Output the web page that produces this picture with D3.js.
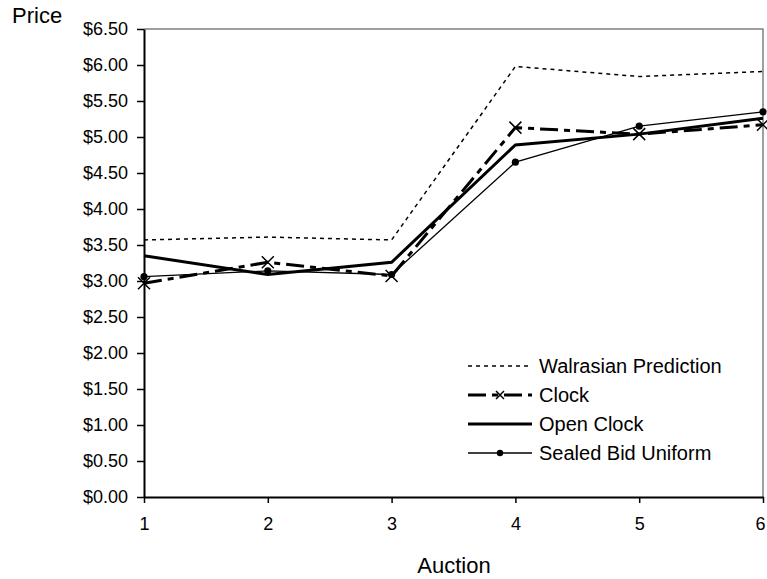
<!DOCTYPE html>
<html>
<head>
<meta charset="utf-8">
<script src="https://cdn.jsdelivr.net/npm/d3@7"></script>
<style>
  body { margin: 0; background: #fff; }
  text { font-family: "Liberation Sans", Arial, sans-serif; fill: #000; }
</style>
</head>
<body>
<script>
// data
var auctions = [1, 2, 3, 4, 5, 6];
var walrasian = [3.57, 3.61, 3.57, 5.98, 5.84, 5.91];
var clock = [2.97, 3.26, 3.07, 5.13, 5.04, 5.17];
var openClock = [3.35, 3.09, 3.26, 4.89, 5.04, 5.26];
var sealedBid = [3.06, 3.14, 3.09, 4.65, 5.15, 5.35];
var priceTicks = [0, 0.5, 1, 1.5, 2, 2.5, 3, 3.5, 4, 4.5, 5, 5.5, 6, 6.5];
var seriesNames = ["Walrasian Prediction", "Clock", "Open Clock", "Sealed Bid Uniform"];

var width = 767, height = 579;
var plot = {left: 144, right: 763, top: 29, bottom: 497};

var svg = d3.select("body").append("svg")
    .attr("width", width)
    .attr("height", height);

var x = d3.scaleLinear().domain([1, 6]).range([plot.left, plot.right]);
var y = d3.scaleLinear().domain([0, 6.5]).range([plot.bottom, plot.top]);

// grey frame on top and right
svg.append("path")
    .attr("d", "M" + plot.left + "," + plot.top + "H" + plot.right + "V" + plot.bottom)
    .attr("fill", "none")
    .attr("stroke", "#808080")
    .attr("stroke-width", 1.5);

// axes
var yAxis = svg.append("g")
    .attr("transform", "translate(" + plot.left + ",0)")
    .call(d3.axisLeft(y).tickValues(priceTicks)
        .tickFormat(function(d) { return "$" + d.toFixed(2); })
        .tickSize(7).tickSizeOuter(0).tickPadding(9));

var xAxis = svg.append("g")
    .attr("transform", "translate(0," + plot.bottom + ")")
    .call(d3.axisBottom(x).tickValues(auctions)
        .tickFormat(d3.format("d"))
        .tickSize(6).tickSizeOuter(0).tickPadding(14));

[yAxis, xAxis].forEach(function(a) {
    a.select(".domain").attr("stroke", "#000").attr("stroke-width", 2);
    a.selectAll(".tick line").attr("stroke", "#000").attr("stroke-width", 1.5);
    a.selectAll(".tick text").style("font-size", "18px").attr("fill", "#000");
});
// last label sits on the window edge; nudge it in so it stays readable
xAxis.selectAll(".tick text").filter(function(d) { return d === 6; }).attr("dx", -3);

svg.append("text").attr("x", 12).attr("y", 23).style("font-size", "22px").text("Price");
svg.append("text").attr("x", 454).attr("y", 573).attr("text-anchor", "middle")
    .style("font-size", "22px").text("Auction");

// series
var line = d3.line()
    .x(function(d, i) { return x(auctions[i]); })
    .y(function(d) { return y(d); });

var styles = [
    {data: walrasian, width: 1.5, dash: "4,4"},
    {data: clock, width: 3, dash: "18,6,6,6"},
    {data: openClock, width: 3, dash: null},
    {data: sealedBid, width: 1.3, dash: null}
];

styles.forEach(function(s) {
    svg.append("path")
        .attr("d", line(s.data))
        .attr("fill", "none")
        .attr("stroke", "#000")
        .attr("stroke-width", s.width)
        .attr("stroke-dasharray", s.dash);
});

function cross(g, cx, cy, r) {
    g.append("path")
        .attr("d", "M" + (cx - r) + "," + (cy - r) + "L" + (cx + r) + "," + (cy + r) +
                   "M" + (cx - r) + "," + (cy + r) + "L" + (cx + r) + "," + (cy - r))
        .attr("stroke", "#000").attr("stroke-width", 1.5).attr("fill", "none");
}

clock.forEach(function(d, i) { cross(svg, x(auctions[i]), y(d), 6); });

svg.selectAll("circle.sealed")
    .data(sealedBid)
    .enter().append("circle")
    .attr("class", "sealed")
    .attr("cx", function(d, i) { return x(auctions[i]); })
    .attr("cy", function(d) { return y(d); })
    .attr("r", 3.6)
    .attr("fill", "#000");

// legend
var legend = svg.append("g")
    .selectAll("g")
    .data(seriesNames)
    .enter().append("g")
    .attr("transform", function(d, i) { return "translate(468," + (366 + i * 29) + ")"; });

legend.append("line")
    .attr("x1", 0).attr("x2", 64)
    .attr("stroke", "#000")
    .attr("stroke-width", function(d, i) { return styles[i].width; })
    .attr("stroke-dasharray", function(d, i) { return styles[i].dash; });

legend.filter(function(d, i) { return i === 1; }).each(function() { cross(d3.select(this), 32, 0, 4); });
legend.filter(function(d, i) { return i === 3; }).append("circle")
    .attr("cx", 32).attr("r", 3.2).attr("fill", "#000");

legend.append("text")
    .attr("x", 71).attr("dy", "0.35em")
    .style("font-size", "20px")
    .text(function(d) { return d; });
</script>
</body>
</html>
